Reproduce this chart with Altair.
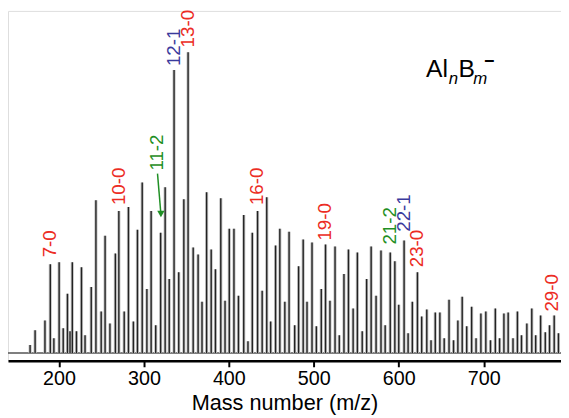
import altair as alt
import pandas as pd

# ---- data ----
peak_mass = [166, 171.9, 183.5, 189.8, 194, 200.2, 205, 210, 213, 215.7, 220.6, 226.5, 230.7, 238,
             243.5, 249.7, 254.3, 260, 266.4, 270.5, 276.8, 281.8, 287.6, 292.4, 298, 303.5,
             308.5, 313.9, 319.7, 325, 329.8, 335.5, 341, 347, 352, 358, 363.8, 368.4, 373.8,
             379.2, 384.2, 390.5, 395.5, 400.5, 406, 411.3, 417.5, 422.5, 427.6, 433.8, 439.2,
             444.6, 449.2, 455, 460, 465.9, 470.9, 477.5, 482.1, 487.5, 492, 497.9, 503, 508.8,
             513.8, 519, 525, 530, 535.5, 540.8, 546.3, 551.3, 557, 562.2, 567.5, 573.3, 579.1,
             584, 590, 595.4, 600, 606.3, 611, 616, 622, 627, 633, 638, 643, 648.4, 653.5,
             659.2, 664.5, 669.6, 674.7, 680, 685.8, 691, 696.7, 702.5, 708, 713.7, 718.7,
             723.8, 728.8, 734.5, 739.7, 744.5, 750.8, 756.6, 761.2, 767, 772.5, 777.5, 783, 788]
peak_int = [8, 23, 33, 90, 15, 92, 25, 60, 22, 92, 22, 87, 18, 67,
            155, 42, 119, 30, 101, 144, 42, 148, 32, 125, 173, 65,
            144, 28, 122, 168, 75, 287, 82, 156, 305, 107, 100, 52, 163,
            105, 85, 157, 53, 126, 126, 58, 140, 12, 122, 144, 63,
            158, 32, 109, 126, 52, 123, 28, 88, 115, 52, 112, 27, 65,
            110, 53, 108, 18, 80, 105, 45, 102, 22, 75, 108, 58, 104,
            28, 102, 93, 49, 114, 20, 52, 82, 37, 44, 13, 41, 41, 15,
            54, 13, 33, 57, 27, 47, 15, 40, 42, 13, 45, 15,
            40, 41, 15, 42, 18, 30, 45, 18, 38, 21, 28, 38, 20]

label_text = ["7-0", "10-0", "11-2", "12-1", "13-0", "16-0", "19-0", "21-2", "22-1", "23-0", "29-0"]
label_mass = [189.8, 270.5, 316, 335.5, 352, 433.8, 513.8, 590, 606.3, 622, 781]
label_int = [97, 150, 185, 291, 310, 150, 114, 110, 123, 87, 42]
label_kind = ["Al", "Al", "B2", "B1", "Al", "Al", "Al", "B2", "B1", "Al", "Al"]

arrow_mass = [316, 320]
arrow_int = [182, 141]

x_domain = [140, 791]
y_domain = [-8, 347]
x_ticks = [200, 300, 400, 500, 600, 700]

kind_color = {"Al": "#ec2c24", "B1": "#3a3a9c", "B2": "#1f8f24"}

FONT = "Liberation Sans"

peaks = pd.DataFrame({"mass": peak_mass, "h": peak_int})
labels = pd.DataFrame({"mass": label_mass, "h": label_int, "text": label_text,
                       "color": [kind_color[k] for k in label_kind]})
arrow = pd.DataFrame({"mass": arrow_mass, "h": arrow_int})
base = pd.DataFrame({"mass": [x_domain[0]], "mass2": [x_domain[1]], "h": [0]})

xscale = alt.Scale(domain=x_domain, nice=False, zero=False)
yscale = alt.Scale(domain=y_domain, nice=False, zero=False)

xaxis = alt.Axis(values=x_ticks, title="Mass number (m/z)", grid=False,
                 domainColor="black", domainWidth=2.5, tickColor="black", tickWidth=2,
                 tickSize=6, labelFontSize=20, labelColor="black", labelFont=FONT,
                 labelPadding=2, titleFont=FONT, titleFontSize=22, titleFontWeight="normal",
                 titleColor="black", titlePadding=4, labelFlush=False)

baseline = alt.Chart(base).mark_rule(color="#555555", strokeWidth=1.5, clip=True).encode(
    x=alt.X("mass:Q", scale=xscale, axis=xaxis), x2="mass2:Q",
    y=alt.Y("h:Q", scale=yscale, axis=None))

halo = alt.Chart(peaks).mark_rule(color="#c4c4c4", strokeWidth=3.2, clip=True).encode(
    x=alt.X("mass:Q", scale=xscale, axis=xaxis),
    y=alt.Y("h:Q", scale=yscale, axis=None),
    y2=alt.datum(0))

spectrum = alt.Chart(peaks).mark_rule(color="#222222", strokeWidth=1.4, clip=True).encode(
    x=alt.X("mass:Q", scale=xscale, axis=xaxis),
    y=alt.Y("h:Q", scale=yscale, axis=None),
    y2=alt.datum(0))

text = alt.Chart(labels).mark_text(angle=270, align="left", baseline="middle",
                                   fontSize=19, font=FONT).encode(
    x=alt.X("mass:Q", scale=xscale), y=alt.Y("h:Q", scale=yscale),
    text="text:N", color=alt.Color("color:N", scale=None))

arrow_line = alt.Chart(arrow).mark_line(color="#1f8f24", strokeWidth=1.5).encode(
    x=alt.X("mass:Q", scale=xscale), y=alt.Y("h:Q", scale=yscale))
arrow_head = alt.Chart(arrow.tail(1)).mark_point(shape="triangle-down", filled=True,
                                                 color="#1f8f24", size=55, opacity=1).encode(
    x=alt.X("mass:Q", scale=xscale), y=alt.Y("h:Q", scale=yscale))

formula = [
    ("Al", 424, 67, 25, "normal", "alphabetic"),
    ("n", 447, 74, 17, "italic", "alphabetic"),
    ("B", 457, 67, 25, "normal", "alphabetic"),
    ("m", 472, 74, 17, "italic", "alphabetic"),
]
formula_layers = []
for t, px, py, fs, style, bl in formula:
    formula_layers.append(
        alt.Chart(pd.DataFrame({"t": [t]})).mark_text(
            align="left", baseline=bl, fontSize=fs, fontStyle=style, font=FONT, color="black"
        ).encode(x=alt.value(px), y=alt.value(py), text="t:N"))
formula_layers.append(
    alt.Chart(pd.DataFrame({"t": ["\u2212"]})).mark_text(
        align="left", baseline="middle", fontSize=18, fontWeight="bold", font=FONT, color="black"
    ).encode(x=alt.value(483), y=alt.value(52), text="t:N"))

chart = alt.layer(baseline, halo, spectrum, text, arrow_line, arrow_head, *formula_layers).properties(
    width=561, height=355,
    autosize=alt.AutoSizeParams(type="none"),
    padding={"left": 0, "top": 0, "right": 0, "bottom": 54},
).configure_view(stroke=None).configure(background="white")

chart.save("out.html", embed_options={"renderer": "svg", "actions": False})
